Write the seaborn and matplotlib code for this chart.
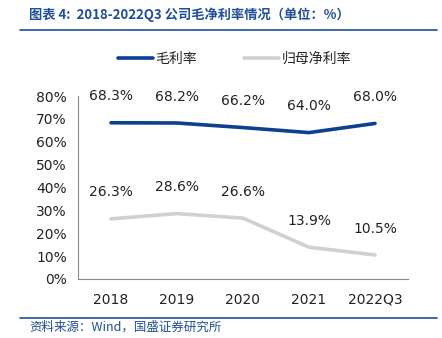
import matplotlib
matplotlib.use("Agg")
import matplotlib.pyplot as plt
from matplotlib.lines import Line2D
from matplotlib.ticker import FixedLocator, PercentFormatter
import seaborn as sns
import pandas as pd

categories = ["2018", "2019", "2020", "2021", "2022Q3"]
gross_margin = [68.3, 68.2, 66.2, 64.0, 68.0]
net_margin = [26.3, 28.6, 26.6, 13.9, 10.5]
y_ticks = [0, 10, 20, 30, 40, 50, 60, 70, 80]

sns.set_style("white")
plt.rcParams["font.family"] = ["Noto Sans CJK SC", "DejaVu Sans"]

BLUE = "#0D3F92"
GREY = "#D0D0D0"
TITLE_BLUE = "#1F4E9C"

df = pd.DataFrame({"x": range(len(categories)), "gross": gross_margin, "net": net_margin})

W, H = 442, 338
fig = plt.figure(figsize=(W / 100, H / 100), dpi=100)
ax = fig.add_axes([78 / W, (H - 279) / H, 330 / W, (279 - 96) / H])

sns.lineplot(data=df, x="x", y="gross", ax=ax, color=BLUE, linewidth=2.6)
sns.lineplot(data=df, x="x", y="net", ax=ax, color=GREY, linewidth=2.6)

for i, v in enumerate(gross_margin):
    ax.annotate(f"{v:.1f}%", (i, v), xytext=(0, 14), textcoords="offset points",
                ha="center", va="bottom", fontsize=10, color="#222222", family="DejaVu Sans")
for i, v in enumerate(net_margin):
    ax.annotate(f"{v:.1f}%", (i, v), xytext=(0, 14), textcoords="offset points",
                ha="center", va="bottom", fontsize=10, color="#222222", family="DejaVu Sans")

ax.set_xlim(-0.5, len(categories) - 0.5)
ax.set_ylim(0, 80)
ax.set_xticks(range(len(categories)))
ax.set_xticklabels(categories, family="DejaVu Sans", fontsize=10)
ax.xaxis.set_minor_locator(FixedLocator([i - 0.5 for i in range(len(categories) + 1)]))
ax.tick_params(axis="x", which="major", length=0, pad=10, colors="#222222")
ax.tick_params(axis="x", which="minor", length=4, direction="in", color="#888888", width=0.8)
ax.set_yticks(y_ticks)
ax.yaxis.set_major_formatter(PercentFormatter(decimals=0))
ax.tick_params(axis="y", length=4, direction="out", width=0.8, pad=4,
               labelsize=10, colors="#222222")
ax.tick_params(axis="y", color="#888888")
for lbl in ax.get_yticklabels():
    lbl.set_family("DejaVu Sans")
ax.set_xlabel("")
ax.set_ylabel("")

for side in ["top", "right"]:
    ax.spines[side].set_visible(False)
for side in ["left", "bottom"]:
    ax.spines[side].set_color("#888888")
    ax.spines[side].set_linewidth(0.8)

handles = [Line2D([], [], color=BLUE, linewidth=2.6), Line2D([], [], color=GREY, linewidth=2.6)]
fig.legend(handles, ["毛利率", "归母净利率"], loc="center left",
           bbox_to_anchor=(118 / W, (H - 59) / H),
           ncol=2, frameon=False, fontsize=10, handlelength=2.5, handletextpad=0.2,
           columnspacing=3.4, borderaxespad=0, borderpad=0)

# header and footer rules
fig.add_artist(Line2D([20 / W, 437 / W], [(H - 30) / H] * 2, color=TITLE_BLUE, linewidth=1.2))
fig.add_artist(Line2D([20 / W, 437 / W], [(H - 318) / H] * 2, color=TITLE_BLUE, linewidth=1.2))
fig.text(29 / W, (H - 15) / H, "图表 4:  2018-2022Q3 公司毛净利率情况（单位：%）", fontsize=9.5,
         color=TITLE_BLUE, style="italic", weight="bold", va="center", ha="left")
fig.text(29 / W, (H - 327) / H, "资料来源：Wind，国盛证券研究所", fontsize=9,
         color=TITLE_BLUE, style="italic", va="center", ha="left")

fig.savefig("out.png", dpi=100)
